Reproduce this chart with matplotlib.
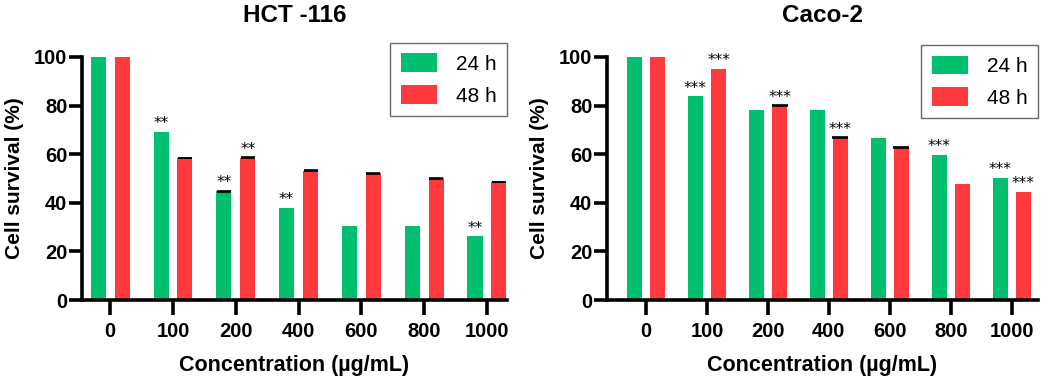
import matplotlib
matplotlib.use("Agg")
import matplotlib.pyplot as plt
import numpy as np

plt.rcParams["font.family"] = ["Liberation Sans", "DejaVu Sans"]

concs = ["0", "100", "200", "400", "600", "800", "1000"]
series = ["24 h", "48 h"]

hct_24 = [100, 69.2, 44.8, 38.0, 30.6, 30.6, 26.2]
hct_48 = [100, 58.4, 58.5, 53.2, 52.2, 50.1, 48.6]
hct_24_err = [0, 0, 0.2, 0, 0, 0, 0]
hct_48_err = [0, 0.15, 0.2, 0.15, 0.15, 0.15, 0.15]
hct_24_sig = ["", "**", "**", "**", "", "", "**"]
hct_48_sig = ["", "", "**", "", "", "", ""]

caco_24 = [100, 83.8, 78.2, 78.2, 66.5, 59.6, 50.4]
caco_48 = [100, 95.0, 80.0, 66.9, 62.8, 47.7, 44.5]
caco_24_err = [0, 0, 0, 0, 0, 0, 0]
caco_48_err = [0, 0, 0.2, 0.2, 0.15, 0, 0]
caco_24_sig = ["", "***", "", "", "", "***", "***"]
caco_48_sig = ["", "***", "***", "***", "", "", "***"]

GREEN = "#00BF6F"
RED = "#FF3A3E"

W, H = 1059, 378
fig = plt.figure(figsize=(W / 100, H / 100), dpi=100)


def panel(rect, title, v24, v48, e24, e48, s24, s48, xlim, off, width, leg_y):
    ax = fig.add_axes(rect)
    x = np.arange(len(concs))
    for vals, errs, sig, col, sgn, lab in [(v24, e24, s24, GREEN, -1, series[0]),
                                          (v48, e48, s48, RED, 1, series[1])]:
        xs = x + sgn * off
        ax.bar(xs, vals, width=width, color=col, label=lab, clip_on=False, zorder=2)
        for xi, v, e, s in zip(xs, vals, errs, sig):
            if e > 0:
                ax.errorbar(xi, v, yerr=e, color="black", capsize=width * 22,
                            elinewidth=0.6, capthick=1.2, clip_on=False, zorder=3)
            if s:
                ax.text(xi, v + 0.3, s, ha="center", va="bottom", fontsize=11,
                        family="DejaVu Sans", zorder=4)
    ax.set_xlim(*xlim)
    ax.set_ylim(0, 100)
    ax.set_yticks(range(0, 101, 20))
    ax.set_xticks(x)
    ax.set_xticklabels(concs)
    for sp in ["top", "right"]:
        ax.spines[sp].set_visible(False)
    for sp in ["left", "bottom"]:
        ax.spines[sp].set_linewidth(2.6)
    ax.tick_params(axis="both", width=2.6, labelsize=14.5)
    ax.tick_params(axis="y", length=9.5, pad=1)
    ax.tick_params(axis="x", length=11, pad=5)
    for lab in ax.get_xticklabels() + ax.get_yticklabels():
        lab.set_fontweight("bold")
    ax.set_xlabel("Concentration (µg/mL)", fontsize=15.5, fontweight="bold", labelpad=10)
    ax.set_ylabel("Cell survival (%)", fontsize=15, fontweight="bold", labelpad=7)
    ax.set_title(title, fontsize=17.5, fontweight="bold", pad=25)
    leg = ax.legend(loc="upper right", bbox_to_anchor=(1.0, leg_y), fontsize=15,
                    handlelength=1.75, handleheight=1.0, frameon=True, fancybox=False,
                    borderpad=0.5, labelspacing=0.55, handletextpad=0.9,
                    borderaxespad=0)
    leg.get_frame().set_edgecolor("#444444")
    leg.get_frame().set_linewidth(1.0)
    return ax


panel([82 / W, 1 - 300 / H, 425 / W, 243 / H], "HCT -116",
      hct_24, hct_48, hct_24_err, hct_48_err, hct_24_sig, hct_48_sig,
      (-0.45, 6.32), 0.19, 0.24, 1.058)
panel([607 / W, 1 - 300 / H, 431 / W, 243 / H], "Caco-2",
      caco_24, caco_48, caco_24_err, caco_48_err, caco_24_sig, caco_48_sig,
      (-0.64, 6.43), 0.19, 0.25, 1.049)

fig.savefig("out.png", dpi=100)
